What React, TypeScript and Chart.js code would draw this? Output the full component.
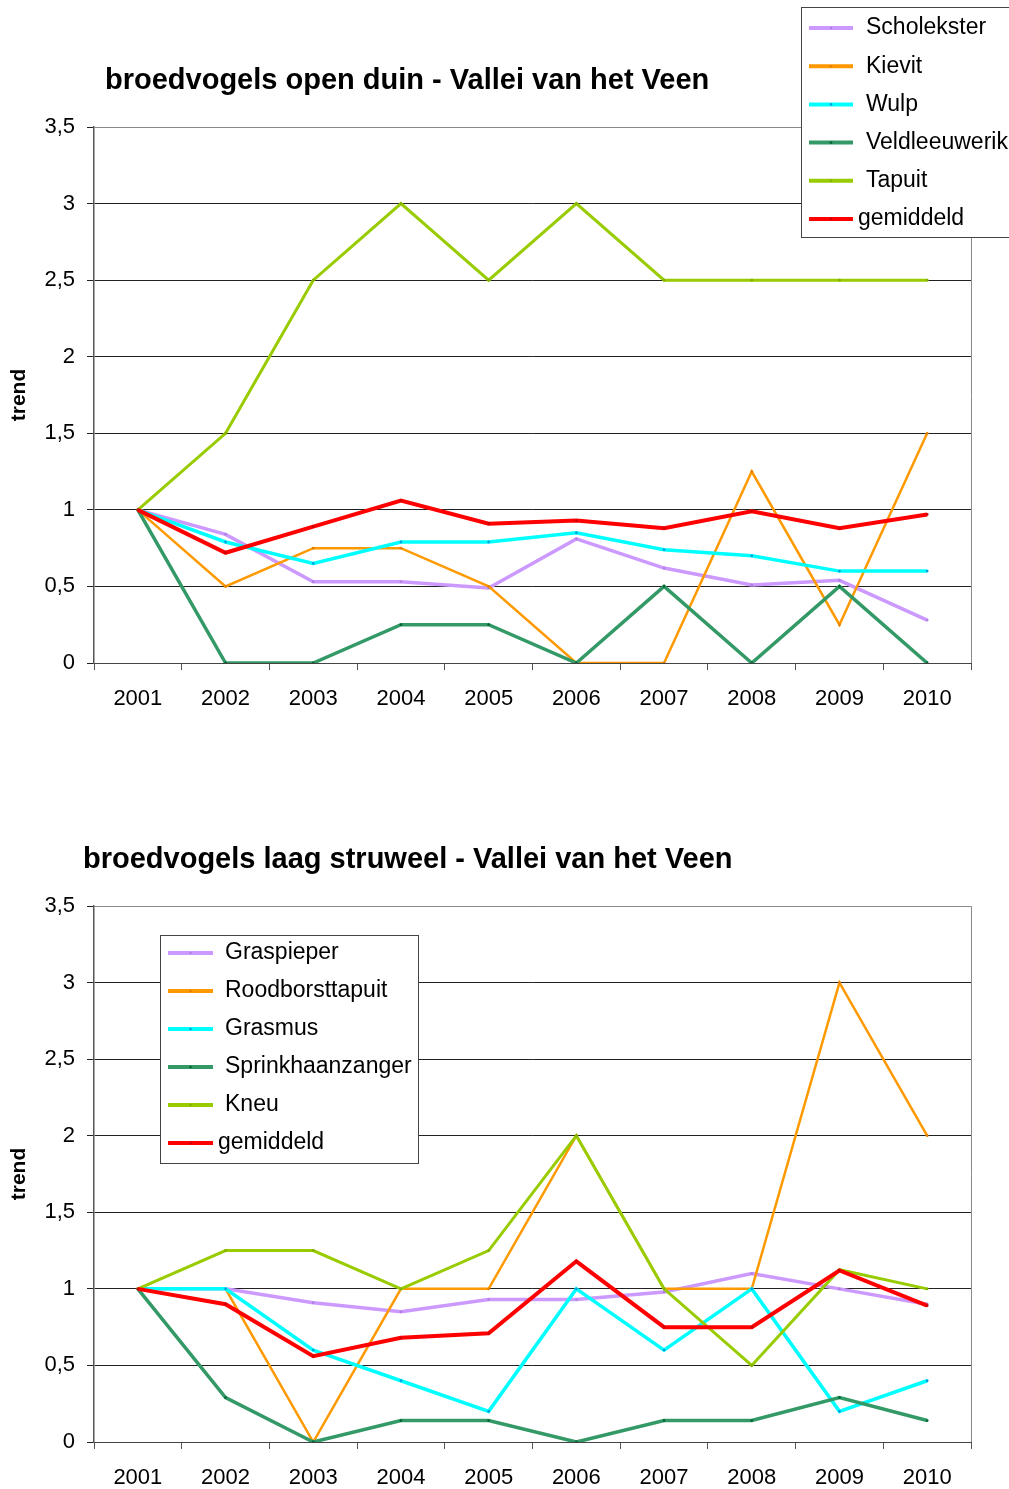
import React, { useEffect, useRef } from "react";
import { Chart, registerables } from "chart.js";

Chart.register(...registerables);

// Shared category axis
const years = ["2001", "2002", "2003", "2004", "2005", "2006", "2007", "2008", "2009", "2010"];

// Broedvogels open duin
const duinLabels = ["Scholekster", "Kievit", "Wulp", "Veldleeuwerik", "Tapuit", "gemiddeld"];
const scholekster = [1, 0.84, 0.53, 0.53, 0.49, 0.81, 0.62, 0.51, 0.54, 0.28];
const kievit = [1, 0.5, 0.75, 0.75, 0.5, 0, 0, 1.25, 0.25, 1.5];
const wulp = [1, 0.79, 0.65, 0.79, 0.79, 0.85, 0.74, 0.7, 0.6, 0.6];
const veldleeuwerik = [1, 0, 0, 0.25, 0.25, 0, 0.5, 0, 0.5, 0];
const tapuit = [1, 1.5, 2.5, 3, 2.5, 3, 2.5, 2.5, 2.5, 2.5];
const gemiddeldDuin = [1, 0.72, 0.89, 1.06, 0.91, 0.93, 0.88, 0.99, 0.88, 0.97];

// Broedvogels laag struweel
const struweelLabels = ["Graspieper", "Roodborsttapuit", "Grasmus", "Sprinkhaanzanger", "Kneu", "gemiddeld"];
const graspieper = [1, 1, 0.91, 0.85, 0.93, 0.93, 0.98, 1.1, 1, 0.9];
const roodborsttapuit = [1, 1, 0, 1, 1, 2, 1, 1, 3, 2];
const grasmus = [1, 1, 0.6, 0.4, 0.2, 1, 0.6, 1, 0.2, 0.4];
const sprinkhaanzanger = [1, 0.29, 0, 0.14, 0.14, 0, 0.14, 0.14, 0.29, 0.14];
const kneu = [1, 1.25, 1.25, 1, 1.25, 2, 1, 0.5, 1.125, 1];
const gemiddeldStruweel = [1, 0.9, 0.56, 0.68, 0.71, 1.18, 0.75, 0.75, 1.12, 0.89];

// Y axis range
const yMin = 0;
const yMax = 3.5;
const yStep = 0.5;

const COLORS = ["#CC99FF", "#FF9900", "#00FFFF", "#339966", "#99CC00", "#FF0000"];
const DOTS = ["#B080E0", "#E08000", "#00A0E0", "#006633", "#80B000", "#CC0000"];
const WIDTHS = [3.5, 2.5, 3.5, 3.5, 3, 4];

const FONT = '"Liberation Sans", Arial, Helvetica, sans-serif';

type LegendLayout = {
  x: number;
  y: number;
  w: number;
  h: number;
  row0: number;
  step: number;
  sx0: number;
  sx1: number;
  tx: number;
  avgTx: number;
};

type Layout = {
  height: number;
  plotTop: number;
  plotBottom: number;
  titleX: number;
  titleY: number;
  legend: LegendLayout;
};

function TrendChart(props: {
  title: string;
  labels: string[];
  series: number[][];
  layout: Layout;
  top: number;
}) {
  const ref = useRef<HTMLCanvasElement | null>(null);

  useEffect(() => {
    const canvas = ref.current;
    if (!canvas) return;
    const { layout, title, labels, series } = props;
    const W = 1009;
    const plotLeft = 94;
    const plotRight = 971;

    const framePlugin = {
      id: "plotFrame",
      beforeDatasetsDraw(chart: any) {
        const { ctx, chartArea } = chart;
        ctx.save();
        ctx.strokeStyle = "#8a8a8a";
        ctx.lineWidth = 1;
        ctx.beginPath();
        ctx.moveTo(chartArea.left, Math.round(chartArea.top) + 0.5);
        ctx.lineTo(Math.round(chartArea.right) + 0.5, Math.round(chartArea.top) + 0.5);
        ctx.lineTo(Math.round(chartArea.right) + 0.5, chartArea.bottom);
        ctx.stroke();
        ctx.restore();
      },
    };

    const headerPlugin = {
      id: "headerAndLegend",
      afterDraw(chart: any) {
        const ctx = chart.ctx as CanvasRenderingContext2D;
        ctx.save();
        // title
        ctx.fillStyle = "#000";
        ctx.font = `bold 29px ${FONT}`;
        ctx.textAlign = "left";
        ctx.textBaseline = "middle";
        ctx.fillText(title, layout.titleX, layout.titleY);

        // legend box
        const lg = layout.legend;
        ctx.fillStyle = "#fff";
        ctx.fillRect(lg.x, lg.y, lg.w, lg.h);
        ctx.strokeStyle = "#444";
        ctx.lineWidth = 1;
        ctx.strokeRect(lg.x + 0.5, lg.y + 0.5, lg.w, lg.h);

        ctx.font = `23px ${FONT}`;
        chart.data.datasets.forEach((ds: any, i: number) => {
          const yy = lg.row0 + i * lg.step;
          ctx.strokeStyle = ds.borderColor;
          ctx.lineWidth = 4;
          ctx.beginPath();
          ctx.moveTo(lg.sx0, yy);
          ctx.lineTo(lg.sx1, yy);
          ctx.stroke();
          ctx.fillStyle = ds.pointBackgroundColor;
          ctx.beginPath();
          ctx.arc((lg.sx0 + lg.sx1) / 2, yy, 1.3, 0, Math.PI * 2);
          ctx.fill();
          ctx.fillStyle = "#000";
          const tx = i === chart.data.datasets.length - 1 ? lg.avgTx : lg.tx;
          ctx.fillText(ds.label, tx, yy);
        });
        ctx.restore();
      },
    };

    const datasets = series.map((data, i) => ({
      label: labels[i],
      data,
      borderColor: COLORS[i],
      backgroundColor: COLORS[i],
      pointBackgroundColor: DOTS[i],
      pointBorderColor: DOTS[i],
      pointRadius: 1.4,
      pointBorderWidth: 0,
      borderWidth: WIDTHS[i],
      tension: 0,
      fill: false,
      order: series.length - 1 - i,
    }));

    const chart = new Chart(canvas, {
      type: "line",
      data: { labels: years, datasets },
      plugins: [framePlugin, headerPlugin],
      options: {
        animation: false,
        responsive: false,
        maintainAspectRatio: false,
        devicePixelRatio: 1,
        layout: {
          padding: { top: layout.plotTop, right: W - plotRight, left: 0, bottom: 0 },
        },
        plugins: {
          legend: { display: false },
          title: { display: false },
          tooltip: { enabled: false },
        },
        scales: {
          x: {
            type: "category",
            offset: true,
            afterFit: (scale: any) => {
              scale.height = layout.height - layout.plotBottom;
            },
            grid: {
              offset: true,
              drawOnChartArea: false,
              drawTicks: true,
              tickLength: 7,
              color: "#555",
            },
            border: { display: true, color: "#444", width: 1 },
            ticks: {
              color: "#000",
              font: { family: FONT, size: 22 },
              padding: 16,
              maxRotation: 0,
              autoSkip: false,
            },
          },
          y: {
            min: yMin,
            max: yMax,
            afterFit: (scale: any) => {
              scale.width = plotLeft;
            },
            ticks: {
              stepSize: yStep,
              color: "#000",
              font: { family: FONT, size: 22 },
              padding: 12,
              callback: (v: any) => String(v).replace(".", ","),
            },
            grid: {
              color: "#222",
              lineWidth: 1,
              tickLength: 7,
              drawTicks: true,
            },
            border: { display: true, color: "#555", width: 1.5 },
            title: {
              display: true,
              text: "trend",
              color: "#000",
              font: { family: FONT, size: 21, weight: "bold" },
              padding: { top: 7, bottom: 0 },
            },
          },
        },
      } as any,
    });

    return () => chart.destroy();
  }, []);

  return (
    <canvas
      ref={ref}
      width={1009}
      height={props.layout.height}
      style={{
        position: "absolute",
        left: 0,
        top: props.top,
        width: 1009,
        height: props.layout.height,
        display: "block",
      }}
    />
  );
}

const duinLayout: Layout = {
  height: 745,
  plotTop: 127,
  plotBottom: 663,
  titleX: 105,
  titleY: 81,
  legend: { x: 801, y: 7, w: 230, h: 230, row0: 28, step: 38.2, sx0: 809, sx1: 853, tx: 866, avgTx: 858 },
};

const struweelLayout: Layout = {
  height: 744,
  plotTop: 161,
  plotBottom: 697,
  titleX: 83,
  titleY: 115,
  legend: { x: 160, y: 190, w: 258, h: 228, row0: 208, step: 38, sx0: 168, sx1: 213, tx: 225, avgTx: 218 },
};

export default function App() {
  return (
    <div
      style={{
        position: "absolute",
        left: 0,
        top: 0,
        width: 1009,
        height: 1489,
        background: "#fff",
        overflow: "hidden",
      }}
    >
      <TrendChart
        title="broedvogels open duin - Vallei van het Veen"
        labels={duinLabels}
        series={[scholekster, kievit, wulp, veldleeuwerik, tapuit, gemiddeldDuin]}
        layout={duinLayout}
        top={0}
      />
      <TrendChart
        title="broedvogels laag struweel - Vallei van het Veen"
        labels={struweelLabels}
        series={[graspieper, roodborsttapuit, grasmus, sprinkhaanzanger, kneu, gemiddeldStruweel]}
        layout={struweelLayout}
        top={745}
      />
    </div>
  );
}
